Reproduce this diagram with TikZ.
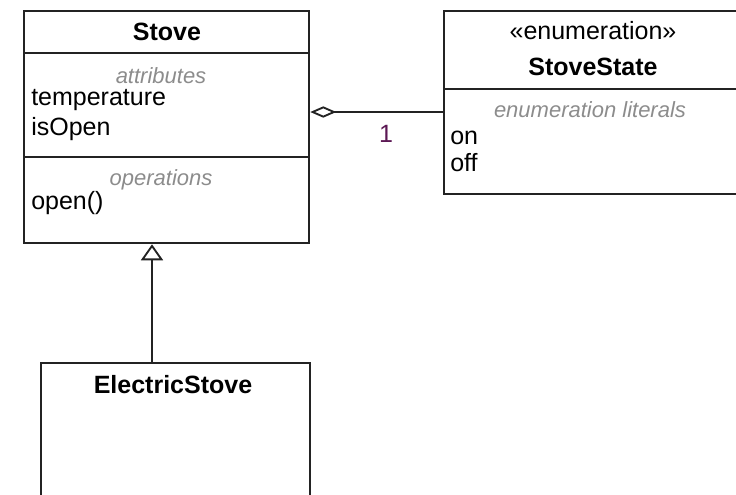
\documentclass[tikz,border=0pt]{standalone}
\usepackage{fontspec}
\setmainfont{Liberation Sans}
\usetikzlibrary{arrows.meta}
\definecolor{multcol}{RGB}{92,24,84}
\definecolor{hintcol}{RGB}{140,140,140}
\definecolor{linecol}{RGB}{35,35,35}
\tikzset{
	umlbox/.style={draw=linecol, line width=1.9pt, rectangle, inner sep=0pt},
	sepline/.style={draw=linecol, line width=1.9pt},
	txt/.style={font=\fontsize{18.75pt}{22pt}\selectfont, inner sep=0pt},
	boldtxt/.style={txt, font=\fontsize{18.75pt}{22pt}\selectfont\bfseries},
	hint/.style={inner sep=0pt, text=hintcol, font=\fontsize{16.5pt}{20pt}\selectfont\itshape},
	aggregation/.style={draw=linecol, line width=1.6pt, {Diamond[open, length=19.5pt, width=8.5pt, line width=1.4pt]}-},
	generalization/.style={draw=linecol, line width=1.6pt, -{Triangle[open, length=12pt, width=16.5pt, line width=1.4pt]}}
}
\begin{document}
\begin{tikzpicture}[x=0.75pt, y=-0.75pt]
	\useasboundingbox (0,0) rectangle (736,494);
	\clip (0,0) rectangle (736,494);
	% Boxes, texts and connectors:
	\node[umlbox, minimum width=213.75pt, minimum height=174pt] (stove) at (166.5,127){};
	\draw[sepline] (24,53) -- (309,53);
	\draw[sepline] (24,157) -- (309,157);
	\node[boldtxt, anchor=mid] (stovename) at (167,37){Stove};
	\node[hint, anchor=mid] (attrhint) at (161,80){attributes};
	\node[txt, anchor=mid west] (temp) at (31,102){temperature};
	\node[txt, anchor=mid west] (isopen) at (31,132){isOpen};
	\node[hint, anchor=mid] (ophint) at (161,182){operations};
	\node[txt, anchor=mid west] (openop) at (31,206){open()};

	\node[umlbox, minimum width=223.5pt, minimum height=137.25pt] (state) at (593,102.5){};
	\draw[sepline] (444,89) -- (742,89);
	\node[txt, anchor=mid] (stereo) at (593,36){«enumeration»};
	\node[boldtxt, anchor=mid] (statename) at (593,72){StoveState};
	\node[hint, anchor=mid] (lithint) at (590,114){enumeration literals};
	\node[txt, anchor=mid west] (lit-on) at (450,141){on};
	\node[txt, anchor=mid west] (lit-off) at (450,168){off};

	\node[umlbox, minimum width=201.75pt, minimum height=117.75pt] (elec) at (175.5,441.5){};
	\node[boldtxt, anchor=mid] (elecname) at (173,390){ElectricStove};

	\coordinate (aggy) at (0,112);
	\coordinate (genx) at (152,0);
	\draw[aggregation] (stove.east |- aggy) -- (state.west |- aggy);
	\node[txt, text=multcol, anchor=mid] (mult) at (386,139){1};
	\draw[generalization] (elec.north -| genx) -- (stove.south -| genx);
\end{tikzpicture}
\end{document}
